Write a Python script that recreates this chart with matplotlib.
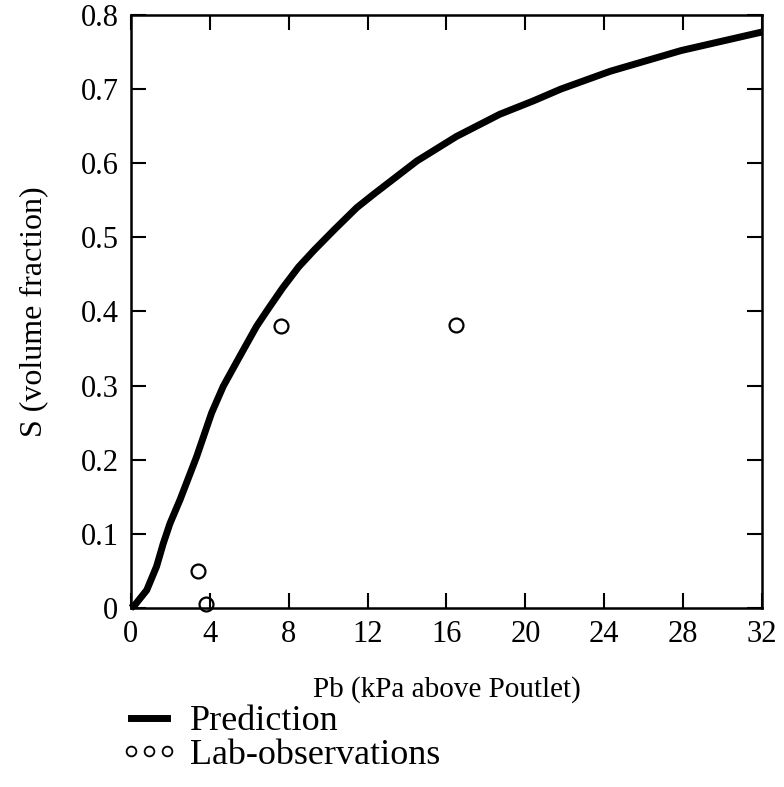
import matplotlib.pyplot as plt
import numpy as np
from matplotlib.lines import Line2D

plt.switch_backend('agg')
plt.rcParams['font.family'] = ['Liberation Serif', 'DejaVu Serif']

# prediction curve
pb_pred = [0.0, 0.2, 0.8, 1.3, 1.64, 1.98, 2.49, 3.33, 4.09, 4.68, 5.53, 6.37, 7.0,
           7.7, 8.5, 9.3, 10.3, 11.45, 12.3, 14.5, 16.5, 18.7, 20.4, 21.8,
           24.3, 27.9, 32.0]
s_pred = [0.0, 0.004, 0.024, 0.056, 0.087, 0.114, 0.146, 0.204, 0.263, 0.299, 0.340,
          0.380, 0.405, 0.432, 0.460, 0.483, 0.510, 0.540, 0.558, 0.603, 0.636,
          0.666, 0.684, 0.700, 0.724, 0.752, 0.777]

# lab observations
pb_obs = [3.4, 3.8, 7.6, 16.5]
s_obs = [0.05, 0.005, 0.381, 0.382]

xticks = [0, 4, 8, 12, 16, 20, 24, 28, 32]
yticks = [0, 0.1, 0.2, 0.3, 0.4, 0.5, 0.6, 0.7, 0.8]
yticklabels = ['0', '0.1', '0.2', '0.3', '0.4', '0.5', '0.6', '0.7', '0.8']

fig = plt.figure(figsize=(7.84, 7.87), dpi=100)
ax = fig.add_axes([0.167, 0.2275, 0.805, 0.7535])

ax.plot(pb_pred, s_pred, color='black', lw=5, solid_joinstyle='round',
        solid_capstyle='butt', clip_on=False)
ax.plot(pb_obs, s_obs, 'o', mfc='none', mec='black', mew=1.6, ms=10, clip_on=False)

ax.set_xlim(0, 32)
ax.set_ylim(0, 0.8)
ax.set_xticks(xticks)
ax.set_yticks(yticks)
ax.set_yticklabels(yticklabels)

ax.tick_params(direction='in', length=11, width=1.5, top=True, right=True,
               labelsize=22, pad=9)
for s in ax.spines.values():
    s.set_linewidth(1.8)

ax.set_xlabel('Pb (kPa above Poutlet)', fontsize=21, labelpad=19)
ax.set_ylabel('S (volume fraction)', fontsize=23, labelpad=23)

handles = [Line2D([], [], color='black', lw=5),
           Line2D([], [], ls='none', marker='o', mfc='none', mec='black', mew=1.3, ms=7)]
fig.legend(handles, ['Prediction', 'Lab-observations'], loc='upper left',
           bbox_to_anchor=(0.153, 0.104), frameon=False, fontsize=26,
           numpoints=3, handlelength=1.6, handletextpad=0.35, labelspacing=0.0,
           borderpad=0, borderaxespad=0)

plt.savefig('out.png', dpi=100)
